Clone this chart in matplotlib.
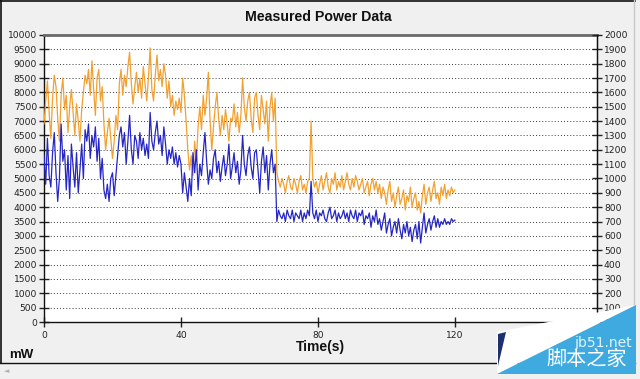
import matplotlib
matplotlib.use("Agg")
import matplotlib.pyplot as plt
from matplotlib.patches import Polygon
from matplotlib.lines import Line2D
import numpy as np

# ---------------- data (mW), sampled every 0.5 s ----------------
time_step = 0.5
orange_mw = [
    6900, 7700, 8400, 7300, 6400, 7800, 8600, 8200, 7100, 6300,
    7900, 8500, 7400, 7900, 6600, 7500, 8100, 7300, 6500, 7600,
    7000, 6300, 7400, 8000, 8600, 8300, 8800, 7900, 9100, 8100,
    7200, 8500, 8800, 7700, 8200, 6900, 6000, 6600, 7100, 6400,
    5700, 6300, 7200, 6700, 8300, 8800, 7900, 8600, 8200, 8900,
    9400, 8300, 7600, 8200, 8700, 8000, 8500, 7800, 8900, 8300,
    7700, 8500, 9550, 8100, 7700, 8600, 9300, 8400, 8800, 8200,
    9000, 8600, 7800, 8400, 7500, 7900, 7200, 7700, 7400, 7800,
    7300, 8500, 7900, 7000, 6000, 5300, 5800, 5100, 6300, 5600,
    6800, 7500, 6700, 7900, 7200, 7800, 8700, 7000, 6000, 6800,
    7500, 8000, 7100, 6500, 7200, 6700, 7400, 6900, 6300, 7100,
    7000, 7600, 6800, 7300, 6600, 7200, 8500, 7500, 7000, 7700,
    8000, 7100, 6600, 7800, 8000, 7200, 6700, 7900, 7400, 6900,
    7700, 6300, 7500, 8000, 7000, 7800,
    5200, 4900, 4700, 5000, 4800, 4500, 4900, 5100, 4700, 4600,
    5000, 4800, 4500, 4900, 5100, 4600, 4800, 4500, 4900, 5000,
    7000, 5000, 4700, 4900, 4500, 4800, 5100, 4600, 4900, 5200,
    4700, 4500, 5000, 4800, 5200, 4600, 4900, 4700, 5100, 4600,
    4900, 5200, 4800, 4600, 5000, 4700, 5100, 4900, 4600, 4800,
    5000, 4500, 4700, 4900, 4400, 4800, 5000, 4600, 4900, 4500,
    4800, 4300, 4700, 4500, 4100, 4600, 4900, 4200, 4500, 4000,
    4400, 4700, 4100, 4300, 4600, 3900, 4400, 4200, 4700, 4000,
    4300, 4500, 3900, 4200, 3800, 4400, 4800, 4100, 4500, 4700,
    4200, 4600, 4900, 4300, 4500, 4100, 4700, 4400, 4800, 4300,
    4600, 4400, 4700, 4500, 4600,
]
blue_mw = [
    5800, 4800, 6400, 5100, 4700, 5900, 6600, 5200, 4200, 5000,
    6900, 5600, 6000, 4600, 5800, 4300, 6200, 5400, 4700, 5900,
    4500, 5300, 6200, 5000, 6700, 6300, 6900, 5700, 6500, 6100,
    6800, 5600, 6400, 5000, 5700, 4600, 4300, 4800, 4200, 5000,
    5200, 4400, 5100, 5800, 6500, 6800, 6100, 6600, 5500, 6300,
    7200, 6000, 5500, 6500, 6300, 5700, 6600, 6000, 6400, 5800,
    6200, 5700, 7300, 6300, 6000, 6600, 7000, 6200, 6500, 5800,
    6800, 6200, 5500, 6000, 5700, 6100, 5500, 5900, 5400, 5800,
    5500, 4500, 5200, 4700, 4200, 5000, 4400, 5900, 5200, 6000,
    4600, 5500, 5100, 5900, 6600, 5600, 4800, 5300, 5000, 5700,
    6000, 5200, 5600, 4900, 5400, 5800, 5100, 5500, 6200, 5000,
    5400, 5900, 5200, 5600, 4800, 5300, 6500, 5500, 5100, 5800,
    6100, 5400, 5000, 5900, 6000, 5300, 4500, 5600, 6100, 5200,
    5800, 4600, 5500, 6000, 5200, 5500,
    3500, 3900, 3700, 3600, 3800, 3500, 3900, 3700, 3600, 3900,
    3500, 3800, 3700, 3600, 3900, 3500, 3800, 3600, 3900, 3700,
    4900, 3800, 3600, 3900, 3500, 3800, 3700, 3900, 3600, 3500,
    3800, 4000, 3600, 3700, 3900, 3500, 3800, 3600, 3700, 3900,
    3600, 3800, 3500, 3900, 3700, 3600, 3900, 3500, 3800, 3700,
    3900, 3400, 3700, 3600, 3800, 3300, 3700, 3500, 3900, 3400,
    3600, 3200, 3500, 3800, 3100, 3400, 3600, 3000, 3300, 3500,
    3100, 3600, 3200, 2900, 3400, 3100, 3500, 3000, 3300, 2800,
    3200, 3400, 2900, 3500, 2750, 3300, 3800, 3100, 3400, 3600,
    3200, 3500, 3700, 3300, 3600, 3300, 3500, 3400, 3600, 3400,
    3500, 3400, 3600, 3500, 3550,
]
x_ticks = [0, 40, 80, 120]
left_ticks = list(range(0, 10001, 500))
right_ticks = list(range(0, 2001, 100))
title = "Measured Power Data"
x_label = "Time(s)"
unit_label = "mW"

t = np.arange(len(orange_mw)) * time_step

W, H = 640, 379
fig = plt.figure(figsize=(W / 100, H / 100), dpi=100)
fig.patch.set_facecolor('#f0f0f0')

def fx(px):
    return px / W

def fy(py):
    return 1 - py / H

ax = fig.add_axes([fx(44), fy(322), fx(597) - fx(44), fy(35) - fy(322)])
ax.set_facecolor('white')
ax.plot(t, orange_mw, color='#f2a030', lw=0.9, zorder=3)
ax.plot(t, blue_mw, color='#2626c4', lw=0.9, zorder=4)

ax.set_xlim(0, 161.5)
ax.set_ylim(0, 10000)
ax.set_xticks(x_ticks)
ax.set_yticks(left_ticks)
ax.grid(axis='y', color='#3a3a3a', linestyle=(0, (1, 2.2)), linewidth=0.7, zorder=1)
ax.tick_params(axis='both', direction='inout', length=7, width=1, colors='#222222',
               labelsize=6.6, pad=1.5)
ax.tick_params(axis='x', pad=3)
for lab in ax.get_xticklabels() + ax.get_yticklabels():
    lab.set_fontfamily('DejaVu Sans')
for side in ['left', 'bottom', 'right']:
    ax.spines[side].set_color('#111111')
    ax.spines[side].set_linewidth(1)
ax.spines['top'].set_color('#6a6a6a')
ax.spines['top'].set_linewidth(2)

ax2 = ax.twinx()
ax2.set_ylim(0, 2000)
ax2.set_yticks(right_ticks)
ax2.tick_params(axis='y', direction='inout', length=7, width=1, colors='#222222',
                labelsize=6.6, pad=1.5)
ax2.spines['right'].set_color('#111111')
ax2.spines['top'].set_visible(False)
ax2.spines['left'].set_visible(False)
ax2.spines['bottom'].set_visible(False)

fig.text(fx(318), fy(17), title, ha='center', va='center', fontsize=10.2,
         fontweight='bold', family='Liberation Sans', color='#111111')
fig.text(fx(320), fy(347), x_label, ha='center', va='center', fontsize=10,
         fontweight='bold', family='Liberation Sans', color='#111111')
fig.text(fx(21), fy(355), unit_label, ha='center', va='center', fontsize=9.5,
         fontweight='bold', family='Liberation Sans', color='#111111')

# frame lines
fig.add_artist(Line2D([fx(0.5), fx(0.5)], [fy(0), fy(363)], color='#111111', lw=1.2))
fig.add_artist(Line2D([fx(0), fx(635)], [fy(0.5), fy(0.5)], color='#111111', lw=1.2))
fig.add_artist(Line2D([fx(0), fx(635)], [fy(363), fy(363)], color='#111111', lw=1.0))
fig.add_artist(Line2D([fx(634), fx(634)], [fy(0), fy(363)], color='#c8c8c8', lw=1.0))
fig.text(fx(7), fy(371), '\u25c4', ha='center', va='center', fontsize=5, color='#b0b0b0')

# watermark
def poly(pts, color, z):
    p = Polygon([(fx(a), fy(b)) for a, b in pts], closed=True, transform=fig.transFigure,
                facecolor=color, edgecolor='none', zorder=z)
    fig.add_artist(p)

poly([(497, 332), (636, 305), (497, 374)], 'white', 10)
poly([(497, 374), (636, 305), (636, 374)], '#3eaae0', 11)
poly([(498, 334), (506, 332), (498, 366)], '#1f3070', 12)
fig.text(fx(603), fy(343), 'jb51.net', ha='center', va='center', fontsize=10,
         family='DejaVu Sans', color='#e4f3fb', zorder=13)
fig.text(fx(587), fy(359), '脚本之家', ha='center', va='center', fontsize=14.5,
         family=['Noto Sans CJK SC', 'DejaVu Sans'], color='white', zorder=13)

fig.savefig('out.png', dpi=100, facecolor=fig.get_facecolor())
